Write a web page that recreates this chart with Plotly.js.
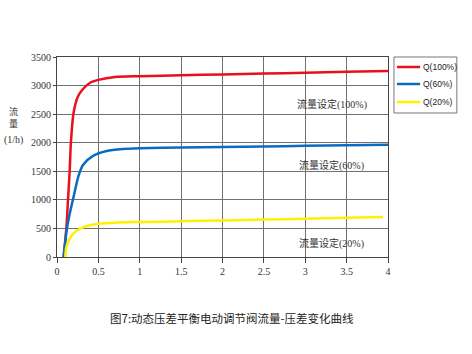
<!DOCTYPE html>
<html><head><meta charset="utf-8">
<script src="https://cdn.plot.ly/plotly-3.0.1.min.js"></script>
<style>body{margin:0;background:#fff}#c{width:472px;height:354px}</style>
</head><body><div id="c"></div>
<script>
const seriesNames = ["Q(100%)", "Q(60%)", "Q(20%)"];
const seriesColors = ["#e8101f", "#0a6cc0", "#fff000"];
const x100 = [0.08, 0.113, 0.133, 0.153, 0.168, 0.2, 0.25, 0.314, 0.4, 0.5, 0.7, 1.0, 1.5, 2, 2.5, 3, 3.5, 4];
const y100 = [0, 500, 1000, 1500, 2000, 2520, 2800, 2940, 3050, 3100, 3150, 3165, 3180, 3195, 3210, 3225, 3240, 3255];
const x60 = [0.08, 0.12, 0.16, 0.2, 0.26, 0.314, 0.435, 0.6, 0.8, 1.0, 1.5, 2, 2.5, 3, 3.5, 4];
const y60 = [0, 500, 800, 1050, 1420, 1610, 1770, 1855, 1890, 1903, 1915, 1925, 1935, 1945, 1955, 1965];
const x20 = [0.1, 0.11, 0.13, 0.18, 0.23, 0.3, 0.4, 0.5, 0.7, 1.0, 1.5, 2, 2.5, 3, 3.5, 3.94];
const y20 = [0, 150, 250, 380, 450, 510, 555, 580, 600, 612, 625, 640, 655, 670, 685, 698];
const setLabels = ["流量设定(100%)", "流量设定(60%)", "流量设定(20%)"];
const setLabelX = [3.32, 3.32, 3.32];
const setLabelY = [2670, 1600, 230];
const xTicks = [0, 0.5, 1, 1.5, 2, 2.5, 3, 3.5, 4];
const xTickText = ["0", "0.5", "1", "1.5", "2", "2.5", "3", "3.5", "4"];
const yTicks = [0, 500, 1000, 1500, 2000, 2500, 3000, 3500];
const yTitleChars = "流<br>量";
const yTitleUnit = "(1/h)";
const caption = "图7:动态压差平衡电动调节阀流量-压差变化曲线";

const xs = [x100, x60, x20], ys = [y100, y60, y20];
const traces = xs.map((x, i) => ({
  x: x, y: ys[i], name: seriesNames[i], type: "scatter", mode: "lines",
  line: {color: seriesColors[i], width: 2.5, shape: "spline", smoothing: 0.8}
}));

const serif = "Liberation Serif, DejaVu Serif, Noto Sans CJK SC, serif";
const annotations = setLabels.map((t, i) => ({
  text: t, x: setLabelX[i], y: setLabelY[i], xref: "x", yref: "y",
  showarrow: false, font: {family: "Liberation Serif, Noto Sans CJK SC", size: 10, color: "#333"}
}));
annotations.push({text: yTitleChars, xref: "paper", yref: "paper", x: -0.13, y: 0.70, xanchor: "center", yanchor: "middle", showarrow: false, font: {family: "Noto Sans CJK SC", size: 9, color: "#333"}});
annotations.push({text: yTitleUnit, xref: "paper", yref: "paper", x: -0.13, y: 0.585, xanchor: "center", yanchor: "middle", showarrow: false, font: {family: serif, size: 10, color: "#333"}});
annotations.push({text: caption, xref: "paper", yref: "paper", x: 0.529, y: -0.305, xanchor: "center", yanchor: "middle", showarrow: false, font: {family: "Noto Sans CJK SC", size: 11.5, color: "#222"}});

// custom legend (box, sample lines, names) in paper coordinates
const legX0 = 1.018, legX1 = 1.208, legY0 = 0.72, legY1 = 1.0;
const legRowY = [0.95, 0.865, 0.775];
const shapes = [{type: "rect", xref: "paper", yref: "paper", x0: legX0, x1: legX1, y0: legY0, y1: legY1,
  line: {color: "#777", width: 1}, fillcolor: "#fff"}];
seriesNames.forEach((n, i) => {
  shapes.push({type: "line", xref: "paper", yref: "paper", x0: 1.027, x1: 1.097, y0: legRowY[i], y1: legRowY[i],
    line: {color: seriesColors[i], width: 2.5}});
  annotations.push({text: n, xref: "paper", yref: "paper", x: 1.099, y: legRowY[i], xanchor: "left", yanchor: "middle",
    showarrow: false, font: {family: "Liberation Sans, Arial, sans-serif", size: 8.5, color: "#222"}});
});

const layout = {
  width: 472, height: 354,
  margin: {l: 57, r: 84, t: 57, b: 97, autoexpand: false},
  paper_bgcolor: "#fff", plot_bgcolor: "#fff",
  showlegend: false,
  xaxis: {range: [0, 4], tickvals: xTicks, ticktext: xTickText, showgrid: true, gridcolor: "#707070", gridwidth: 1,
    zeroline: false, showline: true, linecolor: "#444", mirror: true, ticks: "outside", ticklen: 5, tickcolor: "#444",
    tickfont: {family: serif, size: 10, color: "#333"}},
  yaxis: {range: [0, 3500], tickvals: yTicks, showgrid: true, gridcolor: "#707070", gridwidth: 1,
    zeroline: false, showline: true, linecolor: "#444", mirror: true, ticks: "outside", ticklen: 3, tickcolor: "#444",
    tickfont: {family: serif, size: 10, color: "#333"}},
  annotations: annotations,
  shapes: shapes
};
Plotly.newPlot("c", traces, layout, {displayModeBar: false, staticPlot: true});
</script></body></html>
